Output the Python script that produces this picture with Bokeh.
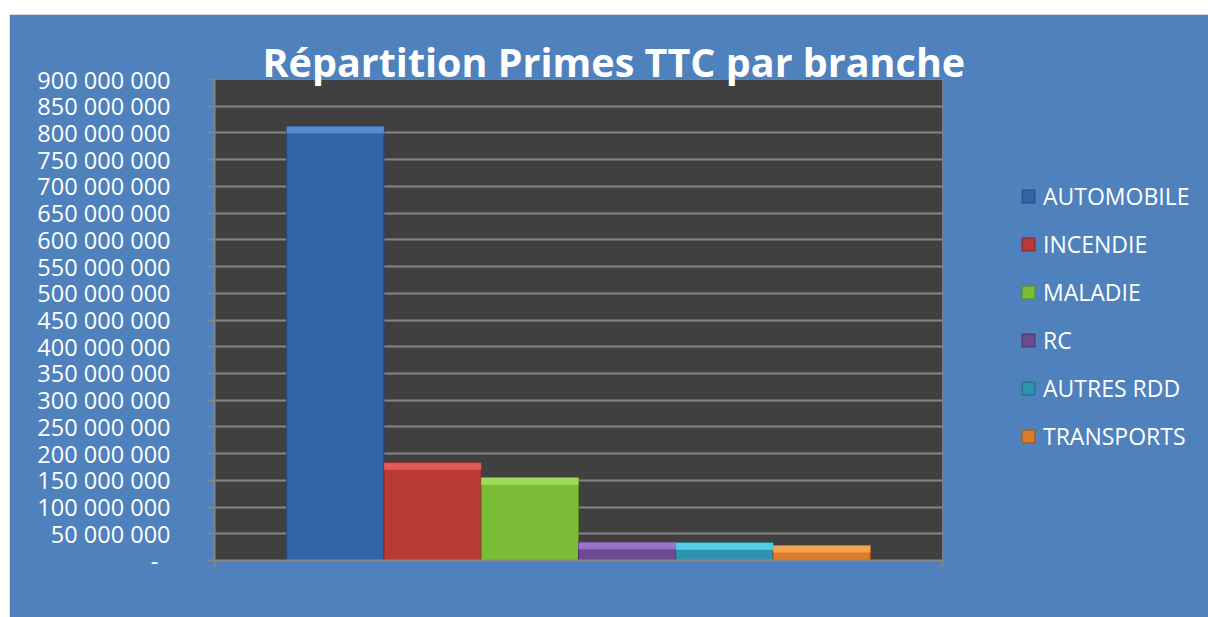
from bokeh.plotting import figure
from bokeh.models import (Range1d, FixedTicker, Legend, LegendItem, Spacer,
                          ColumnDataSource)
from bokeh.layouts import column, row
from bokeh.embed import file_html
from bokeh.resources import INLINE

# ---- data ----
branches = ["AUTOMOBILE", "INCENDIE", "MALADIE", "RC", "AUTRES RDD", "TRANSPORTS"]
primes = [812_000_000, 183_000_000, 155_000_000, 34_000_000, 33_000_000, 28_000_000]
y_ticks = list(range(0, 900_000_001, 50_000_000))
tick_labels = ["-\u00a0\u00a0"] + [f"{t:,}".replace(",", " ") for t in y_ticks[1:]]
title_text = "Répartition Primes TTC par branche"

# ---- styles ----
fill_colors = ["#3165a6", "#b93a36", "#7cbd38", "#6c4b93", "#2f93ad", "#d97c2b"]
line_colors = ["#24497a", "#7f2422", "#578a23", "#48305f", "#1f6a80", "#9c5416"]
top_colors = ["#5c93d8", "#e8625c", "#a6e05a", "#a07ad0", "#5ad8f0", "#f8aa55"]

BG = "#4f81bd"
PLOT_BG = "#404040"
GRID = "#858585"
FW, FH = 728, 481
XR = (-1.242, 6.242)

p = figure(frame_width=FW, frame_height=FH, output_backend="svg", toolbar_location=None,
           x_range=Range1d(*XR), y_range=Range1d(0, y_ticks[-1]),
           min_border_left=205, min_border_right=266, min_border_top=65,
           min_border_bottom=57, background_fill_color=PLOT_BG,
           border_fill_color=BG, outline_line_color=None)

p.title.text = title_text
p.title.align = "left"
p.title.offset = 48
p.title.standoff = -19
p.title.text_color = "white"
p.title.text_font = "Open Sans"
p.title.text_font_style = "bold"
p.title.text_font_size = "39.5px"

xs = list(range(len(branches)))
band = y_ticks[-1] / FH * 7
src = ColumnDataSource(dict(x=xs, top=primes, fill=fill_colors, line=line_colors,
                            ltop=top_colors, btop=[v - band for v in primes],
                            name=branches))
bars = p.vbar(x="x", top="top", bottom=0, width=1, fill_color="fill",
              line_color="line", line_width=1, source=src)
p.vbar(x="x", top="top", bottom="btop", width=1, fill_color="ltop",
       line_color=None, fill_alpha=0.85, source=src)

# y axis
p.yaxis.ticker = FixedTicker(ticks=y_ticks)
p.yaxis.major_label_overrides = {t: l for t, l in zip(y_ticks, tick_labels)}
p.yaxis.major_label_text_color = "white"
p.yaxis.major_label_text_font = "Open Sans"
p.yaxis.major_label_text_font_size = "23.5px"
p.yaxis.major_tick_out = 8
p.yaxis.major_tick_in = 0
p.yaxis.minor_tick_line_color = None
p.yaxis.major_label_standoff = 36
p.yaxis.axis_line_color = GRID
p.yaxis.axis_line_width = 2
p.yaxis.major_tick_line_color = GRID
p.yaxis.major_tick_line_width = 2

# x axis
p.xaxis.ticker = FixedTicker(ticks=list(XR))
p.xaxis.major_label_overrides = {XR[0]: "", XR[1]: ""}
p.xaxis.major_tick_out = 7
p.xaxis.major_tick_in = 0
p.xaxis.minor_tick_line_color = None
p.xaxis.axis_line_color = GRID
p.xaxis.axis_line_width = 2
p.xaxis.major_tick_line_color = GRID
p.xaxis.major_tick_line_width = 2

p.xgrid.grid_line_color = None
p.ygrid.grid_line_color = GRID
p.ygrid.grid_line_width = 2

legend = Legend(items=[LegendItem(label=b, renderers=[bars], index=i)
                       for i, b in enumerate(branches)],
                location=(78, 108), orientation="vertical",
                glyph_width=16, glyph_height=16, label_height=23, spacing=16,
                label_standoff=7, padding=0, margin=0,
                label_text_color="white", label_text_font="Open Sans",
                label_text_font_size="23px", border_line_color=None,
                background_fill_alpha=0)
p.add_layout(legend, "right")

layout = column(Spacer(height=14, width=1208),
                row(Spacer(width=9, height=603), p))
open("out.html", "w").write(file_html(layout, INLINE))
